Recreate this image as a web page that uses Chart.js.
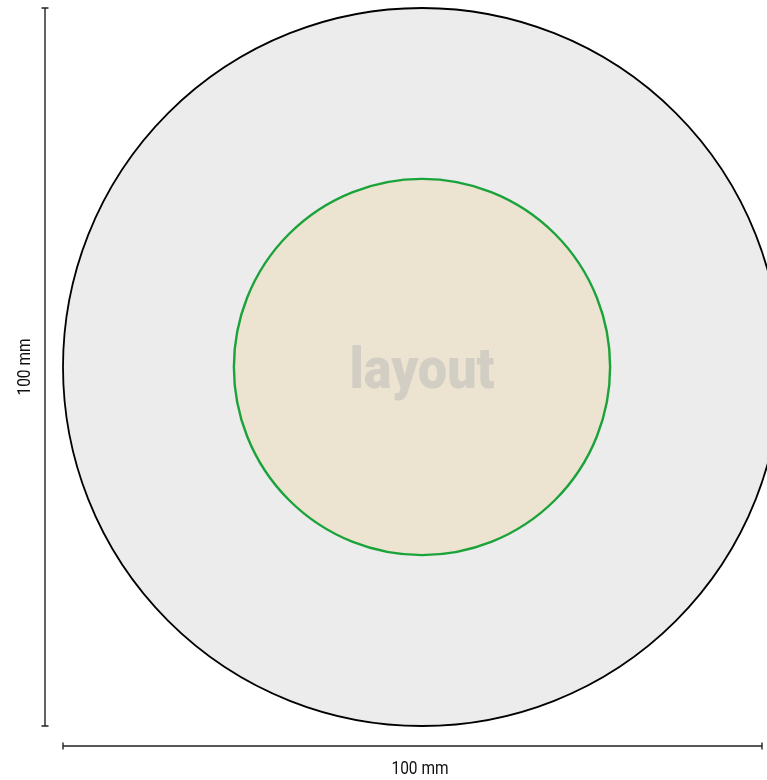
<!DOCTYPE html>
<html><head><meta charset="utf-8">
<script src="https://cdn.jsdelivr.net/npm/chart.js@4"></script>
<style>html,body{margin:0;padding:0;background:#fff;overflow:hidden}</style>
</head><body><canvas id="c" width="767" height="780"></canvas>
<script>
// Data (millimetres)
const circleNames = ['Disc', 'Layout'];
const diametersMm = [100, 52.4];
const centersX = [0, 0];
const centersY = [0, 0];
const dimensionLabels = ['100 mm', '100 mm'];
const dimensionValues = [100, 100];
const centerLabel = 'layout';
const xRange = [-50, 48.05];
const yRange = [-50, 50];

const fills = ['#ececec', '#ece3d1'];
const borders = ['#000000', '#1aa33a'];
const borderWidths = [1.8, 2.4];

const pxRadius = (chart, mm) => {
  const s = chart.scales.x;
  const v = Math.abs(s.getPixelForValue(mm) - s.getPixelForValue(0));
  return isFinite(v) ? v : 0;
};

const datasets = circleNames.map((name, i) => ({
  label: name,
  order: circleNames.length - i,
  data: [{ x: centersX[i], y: centersY[i] }],
  backgroundColor: fills[i],
  borderColor: borders[i],
  pointBackgroundColor: fills[i],
  pointBorderColor: borders[i],
  pointBorderWidth: borderWidths[i],
  pointRadius: (ctx) => pxRadius(ctx.chart, diametersMm[ctx.datasetIndex] / 2),
  pointHoverRadius: (ctx) => pxRadius(ctx.chart, diametersMm[ctx.datasetIndex] / 2),
  showLine: false,
  clip: false
}));

const dimPlugin = {
  id: 'dims',
  afterDatasetsDraw(chart) {
    const { ctx, scales: { x, y } } = chart;
    ctx.save();
    ctx.strokeStyle = '#222';
    ctx.fillStyle = '#111';
    ctx.lineWidth = 1.4;
    // vertical dimension
    const vx = 45;
    const vTop = y.getPixelForValue(centersY[0] + dimensionValues[0] / 2);
    const vBot = y.getPixelForValue(centersY[0] - dimensionValues[0] / 2);
    ctx.beginPath();
    ctx.moveTo(vx, vTop); ctx.lineTo(vx, vBot);
    ctx.moveTo(vx - 3.5, vTop); ctx.lineTo(vx + 3.5, vTop);
    ctx.moveTo(vx - 3.5, vBot); ctx.lineTo(vx + 3.5, vBot);
    ctx.stroke();
    // horizontal dimension
    const hy = 746;
    const hL = x.getPixelForValue(centersX[0] - dimensionValues[1] / 2);
    const hR = Math.min(x.getPixelForValue(centersX[0] + dimensionValues[1] / 2), chart.width - 5);
    ctx.beginPath();
    ctx.moveTo(hL, hy); ctx.lineTo(hR, hy);
    ctx.moveTo(hL, hy - 3.5); ctx.lineTo(hL, hy + 3.5);
    ctx.moveTo(hR, hy - 3.5); ctx.lineTo(hR, hy + 3.5);
    ctx.stroke();
    // labels
    ctx.font = '18px "Roboto", sans-serif';
    ctx.textAlign = 'center';
    ctx.textBaseline = 'middle';
    ctx.save();
    ctx.translate(25, (vTop + vBot) / 2);
    ctx.rotate(-Math.PI / 2);
    ctx.scale(0.86, 1);
    ctx.fillText(dimensionLabels[0], 0, 0);
    ctx.restore();
    ctx.save();
    ctx.translate(420, 769);
    ctx.scale(0.86, 1);
    ctx.fillText(dimensionLabels[1], 0, 0);
    ctx.restore();
    // center label
    ctx.save();
    ctx.font = '900 58px "Roboto", sans-serif';
    ctx.fillStyle = '#d3cec4';
    ctx.textBaseline = 'alphabetic';
    ctx.translate(x.getPixelForValue(centersX[1]), 388);
    ctx.scale(0.9, 1);
    ctx.fillText(centerLabel, 0, 0);
    ctx.restore();
    ctx.restore();
  }
};

new Chart(document.getElementById('c'), {
  type: 'scatter',
  data: { datasets },
  options: {
    responsive: false,
    animation: false,
    events: [],
    layout: { autoPadding: false, padding: { left: 63, top: 8, right: 0, bottom: 54 } },
    plugins: { legend: { display: false }, tooltip: { enabled: false } },
    scales: {
      x: { type: 'linear', min: xRange[0], max: xRange[1], display: false },
      y: { type: 'linear', min: yRange[0], max: yRange[1], display: false }
    }
  },
  plugins: [dimPlugin]
});
</script>
</body></html>
